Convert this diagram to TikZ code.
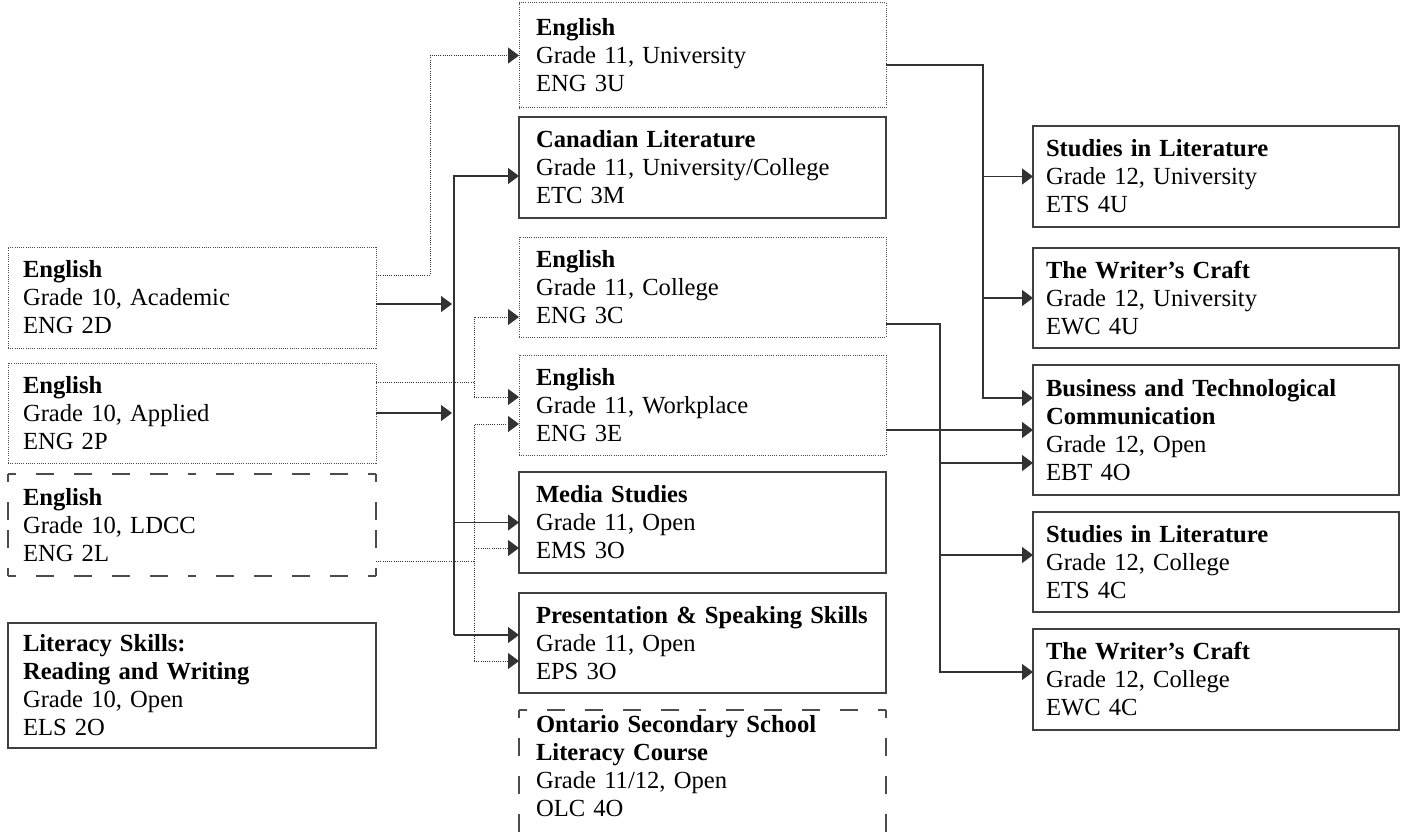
\documentclass[tikz,border=0pt]{standalone}
\usepackage{fontspec}
\setmainfont{Liberation Serif}
\usetikzlibrary{calc}
\usetikzlibrary{arrows.meta}

\newcommand{\coursefont}{\fontsize{24.6}{28}\selectfont}

\tikzset{
 course/.style={anchor=north west, inner ysep=0pt, outer sep=0pt, align=left, font=\coursefont, line width=1.3pt, draw=black!75},
 leftbox/.style={course, inner xsep=15pt, text width=338pt},
 midbox/.style={course, inner xsep=17pt, text width=333pt},
 rightbox/.style={course, inner xsep=13pt, text width=340pt},
 dotbox/.style={line width=1pt, dash pattern=on 1pt off 1.2pt, draw=black!70},
 dashbox/.style={line width=1.3pt, black!70, dash pattern=on 18pt off 20pt, dash phase=10pt},
 conn/.style={line width=1.3pt, black!80, >={Triangle[length=11pt,width=16pt]}},
 dotline/.style={line width=1pt, dash pattern=on 1pt off 1.2pt, black!80, >={Triangle[length=11pt,width=16pt]}},
}

% dashed frame, drawn from each corner so that the corners show
\newcommand{\cornerframe}[1]{%
 \foreach \a/\b in {north west/north, north east/north, south west/south, south east/south,
   north west/west, south west/west, north east/east, south east/east}
  \draw[dashbox] (#1.\a) -- (#1.\b);
}

\begin{document}
\begin{tikzpicture}[x=1pt, y=-1pt]
\useasboundingbox (0,0) rectangle (1404,832);
\fill[white] (0,0) rectangle (1404,832);

% grade 10
\node[leftbox, dotbox, minimum height=101pt] (eng2d) at (8,247) {\textbf{English}\\Grade 10, Academic\\ENG 2D};
\node[leftbox, dotbox, minimum height=100pt] (eng2p) at (8,363) {\textbf{English}\\Grade 10, Applied\\ENG 2P};
\node[leftbox, draw=none, minimum height=102pt] (eng2l) at (8,474) {\textbf{English}\\Grade 10, LDCC\\ENG 2L};
\cornerframe{eng2l}
\node[leftbox, line width=2.4pt, minimum height=125pt] (els2o) at (8,623) {\textbf{Literacy Skills:}\\\textbf{Reading and Writing}\\Grade 10, Open\\ELS 2O};

% grade 11
\node[midbox, dotbox, minimum height=105pt] (eng3u) at (519,3) {\textbf{English}\\Grade 11, University\\ENG 3U};
\node[midbox, minimum height=101pt] (etc3m) at (519,117) {\textbf{Canadian Literature}\\Grade 11, University/College\\ETC 3M};
\node[midbox, dotbox, minimum height=100pt] (eng3c) at (519,237) {\textbf{English}\\Grade 11, College\\ENG 3C};
\node[midbox, dotbox, minimum height=100pt] (eng3e) at (519,355) {\textbf{English}\\Grade 11, Workplace\\ENG 3E};
\node[midbox, minimum height=101pt] (ems3o) at (519,472) {\textbf{Media Studies}\\Grade 11, Open\\EMS 3O};
\node[midbox, minimum height=100pt] (eps3o) at (519,593) {\textbf{Presentation \& Speaking Skills}\\Grade 11, Open\\EPS 3O};
\node[midbox, draw=none, minimum height=113pt] (olc4o) at (519,710) {\textbf{Ontario Secondary School}\\\textbf{Literacy Course}\\Grade 11/12, Open\\OLC 4O};
\draw[dashbox] (olc4o.north west) -- (olc4o.north);
\draw[dashbox] (olc4o.north east) -- (olc4o.north);
\draw[dashbox] (olc4o.north west) -- ++(0,160);
\draw[dashbox] (olc4o.north east) -- ++(0,160);

% grade 12
\node[rightbox, minimum height=101pt] (ets4u) at (1033,126) {\textbf{Studies in Literature}\\Grade 12, University\\ETS 4U};
\node[rightbox, minimum height=100pt] (ewc4u) at (1033,248) {\textbf{The Writer’s Craft}\\Grade 12, University\\EWC 4U};
\node[rightbox, minimum height=130pt] (ebt4o) at (1033,365) {\textbf{Business and Technological}\\\textbf{Communication}\\Grade 12, Open\\EBT 4O};
\node[rightbox, minimum height=100pt] (ets4c) at (1033,512) {\textbf{Studies in Literature}\\Grade 12, College\\ETS 4C};
\node[rightbox, minimum height=101pt] (ewc4c) at (1033,629) {\textbf{The Writer’s Craft}\\Grade 12, College\\EWC 4C};

% grade 10 to grade 11
\draw[dotline,->] ($(eng2d.east)+(0,-22.5)$) -- ++(54,0) |- (eng3u.west);
\draw[conn,->] ($(eng2d.east)+(0,6.5)$) -- ++(76,0);
\draw[conn,->] (eng2p.east) -- ++(76,0);
\draw[conn,->] ($(eps3o.west)+(-65,-8)$) |- ($(etc3m.west)+(0,8.5)$);
\draw[conn,->] ($(ems3o.west)+(-65,0)$) -- (ems3o.west);
\draw[conn,->] ($(eps3o.west)+(-65,-8)$) -- ++(65,0);

\draw[dotline] ($(eng2p.east)+(0,-31)$) -- ++(98,0);
\draw[dotline,->] ($(eng3e.west)+(-45,-8)$) |- ($(eng3c.west)+(0,30)$);
\draw[dotline,->] ($(eng3e.west)+(-45,-8)$) -- ++(45,0);

\draw[dotline] ($(eng2l.east)+(0,36)$) -- ++(98,0);
\draw[dotline,->] ($(eps3o.west)+(-45,18)$) |- ($(eng3e.west)+(0,19)$);
\draw[dotline,->] ($(ems3o.west)+(-45,25.5)$) -- ++(45,0);
\draw[dotline,->] ($(eps3o.west)+(-45,18)$) -- ++(45,0);

% grade 11 to grade 12
\draw[conn,->] ($(eng3u.east)+(0,9.5)$) -| ($(ebt4o.west)+(-50,-32)$) -- ($(ebt4o.west)+(0,-32)$);
\draw[conn,->] ($(ets4u.west)+(-50,0)$) -- (ets4u.west);
\draw[conn,->] ($(ewc4u.west)+(-50,0)$) -- (ewc4u.west);

\draw[conn,->] ($(eng3c.east)+(0,37)$) -| ($(ewc4c.west)+(-93,-7.5)$) -- ($(ewc4c.west)+(0,-7.5)$);
\draw[conn,->] ($(ebt4o.west)+(-93,33)$) -- ++(93,0);
\draw[conn,->] ($(ets4c.west)+(-93,-7)$) -- ++(93,0);

\draw[conn,->] ($(eng3e.east)+(0,25)$) -- (ebt4o.west);
\end{tikzpicture}
\end{document}
